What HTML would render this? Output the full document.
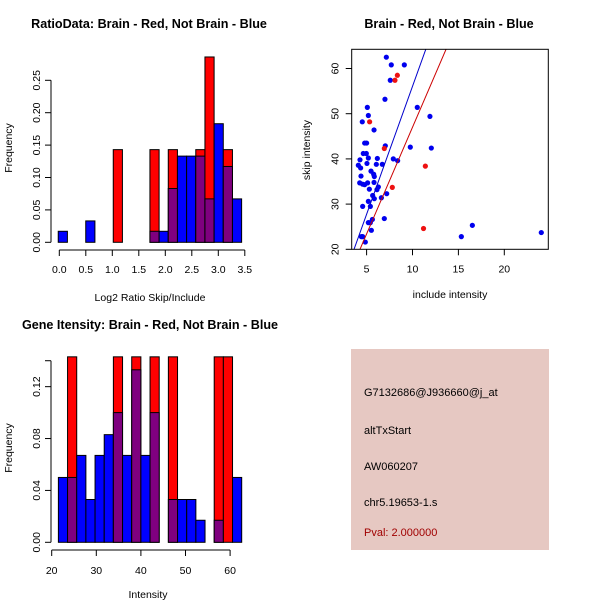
<!DOCTYPE html>
<html><head><meta charset="utf-8"><style>
body{margin:0;background:#fff}
svg{display:block;font-family:"Liberation Sans",sans-serif}
</style></head><body>
<svg id="c" width="600" height="600" viewBox="0 0 600 600">
<rect width="600" height="600" fill="#fff"/>
<g>
<rect x="351" y="349" width="198" height="201" fill="#e6c8c2"/>
<text x="364" y="396" font-size="11" fill="#000">G7132686@J936660@j_at</text>
<text x="364" y="434" font-size="11" fill="#000">altTxStart</text>
<text x="364" y="470" font-size="11" fill="#000">AW060207</text>
<text x="364" y="506" font-size="11" fill="#000">chr5.19653-1.s</text>
<text x="364" y="536" font-size="11" fill="#a00000">Pval: 2.000000</text>
</g>
</svg>
<script>
// ratio histogram
const ratioBinStart = -0.02, ratioBinWidth = 0.173;
const ratioBlue = [0.017,0,0,0.033,0,0,0,0,0,0,0.017,0.017,0.083,0.133,0.133,0.133,0.067,0.183,0.117,0.067];
const ratioRed  = [0,0,0,0,0,0,0.143,0,0,0,0.143,0,0.143,0,0,0.143,0.286,0,0.143,0];
const ratioXTicks = [0,0.5,1,1.5,2,2.5,3,3.5];
const ratioYTicks = [0,0.05,0.10,0.15,0.20,0.25];
// gene intensity histogram
const geneBinStart = 21.5, geneBinWidth = 2.055;
const geneBlue = [0.05,0.05,0.067,0.033,0.067,0.083,0.10,0.067,0.133,0.067,0.10,0,0.033,0.033,0.033,0.017,0,0.017,0,0.05];
const geneRed  = [0,0.143,0,0,0,0,0.143,0,0.143,0,0.143,0,0.143,0,0,0,0,0.143,0.143,0];
const geneXTicks = [20,30,40,50,60];
const geneYTicks = [0,0.04,0.08,0.12,0.14];
// scatter
const notBrainX = [7.15,7.69,9.11,7.58,7.0,10.52,5.08,11.9,5.19,4.53,5.81,4.79,5.0,4.64,4.97,7.04,9.76,12.05,5.19,6.17,4.28,5.04,4.10,6.06,6.71,7.91,8.38,4.35,5.48,4.39,5.77,5.84,4.25,4.57,4.79,5.11,5.81,6.28,6.13,5.30,5.66,6.61,5.84,7.19,5.19,4.57,5.41,6.93,5.19,5.63,5.41,5.52,4.43,4.57,4.86,15.32,16.52,24.03];
const notBrainY = [62.5,60.8,60.8,57.4,53.2,51.4,51.4,49.4,49.6,48.2,46.4,43.5,43.5,41.2,41.2,42.9,42.6,42.4,40.2,40.1,39.8,39.0,38.6,38.8,38.8,40.0,39.6,38.0,37.3,36.2,36.6,36.1,34.7,34.4,34.3,34.7,34.8,33.8,33.2,33.3,31.9,31.4,31.2,32.3,30.6,29.5,29.5,26.8,25.9,26.6,25.9,24.2,22.8,22.8,21.6,22.8,25.3,23.7];
const brainX = [8.35,8.09,5.33,6.93,11.4,7.80,11.2];
const brainY = [58.5,57.4,48.2,42.3,38.4,33.7,24.6];
const blueLine = [-0.55,5.66];
const redLine = [-0.2,4.72];
const scatterXTicks = [5,10,15,20];
const scatterYTicks = [20,30,40,50,60];

const svg = document.getElementById('c');
const NS = 'http://www.w3.org/2000/svg';
function mk(tag, attrs, parent){const e=document.createElementNS(NS,tag);for(const k in attrs)e.setAttribute(k,attrs[k]);(parent||svg).appendChild(e);return e;}
function txt(x,y,s,size,extra,parent){const t=mk('text',Object.assign({x:x,y:y,'font-size':size,'text-anchor':'middle'},extra||{}),parent);t.textContent=s;return t;}

function hist(o){
  const g=mk('g',{});
  
  
  const sx=v=>o.x0+(v-o.xv0)*o.kx, sy=v=>o.y0-v*o.ky;
  for(let i=0;i<o.blue.length;i++){
    const a=sx(o.start+i*o.w), b=sx(o.start+(i+1)*o.w);
    const r=o.red[i], bl=o.blue[i];
    if(r>0){const e=mk('rect',{x:a,y:sy(r),width:b-a,height:sy(0)-sy(r),fill:'#ff0000',stroke:'#000','stroke-width':1},g);
      
      }
    if(bl>0){const ov=r>0;
      const e=mk('rect',{x:a,y:sy(bl),width:b-a,height:sy(0)-sy(bl),fill:(ov&&bl<=r)?'#7f007f':'#0000ff',stroke:'#000','stroke-width':1},g);
      
      
      if(ov&&bl>r){mk('rect',{x:a,y:sy(r),width:b-a,height:sy(0)-sy(r),fill:'#7f007f',stroke:'#000','stroke-width':1},g);}
    }
  }
  const ya=mk('g',{},g);
  
  
  mk('line',{x1:o.yAxisX,x2:o.yAxisX,y1:sy(o.yt[0]),y2:sy(o.yt[o.yt.length-1]),stroke:'#000'},ya);
  o.yt.forEach((v,i)=>{const y=sy(v);mk('line',{x1:o.yAxisX-6,x2:o.yAxisX,y1:y,y2:y,stroke:'#000'},ya);
    if(!o.skipLast||i<o.yt.length-1) txt(o.yAxisX-11,y,v.toFixed(2),10.5,{transform:`rotate(-90 ${o.yAxisX-11} ${y})`},ya);});
  const xa=mk('g',{},g);
  
  
  mk('line',{x1:sx(o.xt[0]),x2:sx(o.xt[o.xt.length-1]),y1:o.xAxisY,y2:o.xAxisY,stroke:'#000'},xa);
  o.xt.forEach(v=>{const x=sx(v);mk('line',{x1:x,x2:x,y1:o.xAxisY,y2:o.xAxisY+6,stroke:'#000'},xa);
    txt(x,o.xAxisY+o.tickOff,o.fmt(v),10.5,{},xa);});
  const xl=txt(o.xlabX,o.xAxisY+o.labOff,o.xlab,10.5,{},g);
  
  
  const yl=txt(12,o.ylabY,'Frequency',10.5,{transform:`rotate(-90 12 ${o.ylabY})`},g);
  
  
  const t=txt(o.titleX,o.titleY,o.title,12.6,{'font-weight':'bold'},g);
  
  
}
hist({name:'ratio-histogram',x0:59.3,xv0:0,kx:53,y0:242.3,ky:648,start:ratioBinStart,w:ratioBinWidth,blue:ratioBlue,red:ratioRed,
  xt:ratioXTicks,yt:ratioYTicks,yAxisX:51,xAxisY:250,tickOff:23,labOff:51,fmt:v=>v.toFixed(1),xlab:'Log2 Ratio Skip/Include',xlabX:150,ylabY:148,
  title:'RatioData: Brain - Red, Not Brain - Blue',titleX:149,titleY:28});
hist({name:'gene-intensity-histogram',x0:51.7,xv0:20,kx:4.46,y0:542.3,ky:1297,start:geneBinStart,w:geneBinWidth,blue:geneBlue,red:geneRed,
  xt:geneXTicks,yt:geneYTicks,yAxisX:51,xAxisY:550,tickOff:24,labOff:48,fmt:v=>String(v),xlab:'Intensity',xlabX:148,ylabY:448,skipLast:true,
  title:'Gene Itensity: Brain - Red, Not Brain - Blue',titleX:150,titleY:329});

(function(){
  const g=mk('g',{});
  
  
  const L=351.7,R=548.3,T=49.3,B=249.3;
  const sx=v=>320.7+v*9.18, sy=v=>249.3-(v-20)*4.52;
  const cp=mk('clipPath',{id:'clp'},g);mk('rect',{x:L,y:T,width:R-L,height:B-T},cp);
  const pts=mk('g',{'clip-path':'url(#clp)'},g);
  const drawLine=(c,col,nm)=>{const xa=0,xb=30;const l=mk('line',{x1:sx(xa),y1:sy(c[0]+c[1]*xa),x2:sx(xb),y2:sy(c[0]+c[1]*xb),stroke:col,'stroke-width':1},pts);
    
    };
  notBrainX.forEach((x,i)=>{const c=mk('circle',{cx:sx(x),cy:sy(notBrainY[i]),r:2.6,fill:'#0000ee'},pts);
    
    });
  brainX.forEach((x,i)=>{const c=mk('circle',{cx:sx(x),cy:sy(brainY[i]),r:2.6,fill:'#ee1111'},pts);
    
    });
  drawLine(blueLine,'#0000cc','fit-line-not-brain');
  drawLine(redLine,'#cc0000','fit-line-brain');
  mk('rect',{x:L,y:T,width:R-L,height:B-T,fill:'none',stroke:'#000'},g);
  scatterXTicks.forEach(v=>{const x=sx(v);mk('line',{x1:x,x2:x,y1:B,y2:B+6,stroke:'#000'},g);txt(x,B+23,String(v),10.5,{},g);});
  scatterYTicks.forEach(v=>{const y=sy(v);mk('line',{x1:L-6,x2:L,y1:y,y2:y,stroke:'#000'},g);txt(L-13,y,String(v),10.5,{transform:`rotate(-90 ${L-13} ${y})`},g);});
  const xl=txt(450,298,'include intensity',10.5,{},g);
  
  
  const yl=txt(310,150,'skip intensity',10.5,{transform:'rotate(-90 310 150)'},g);
  
  
  const t=txt(449,28,'Brain - Red, Not Brain - Blue',12.6,{'font-weight':'bold'},g);
  
  
})();
</script>
</body></html>
